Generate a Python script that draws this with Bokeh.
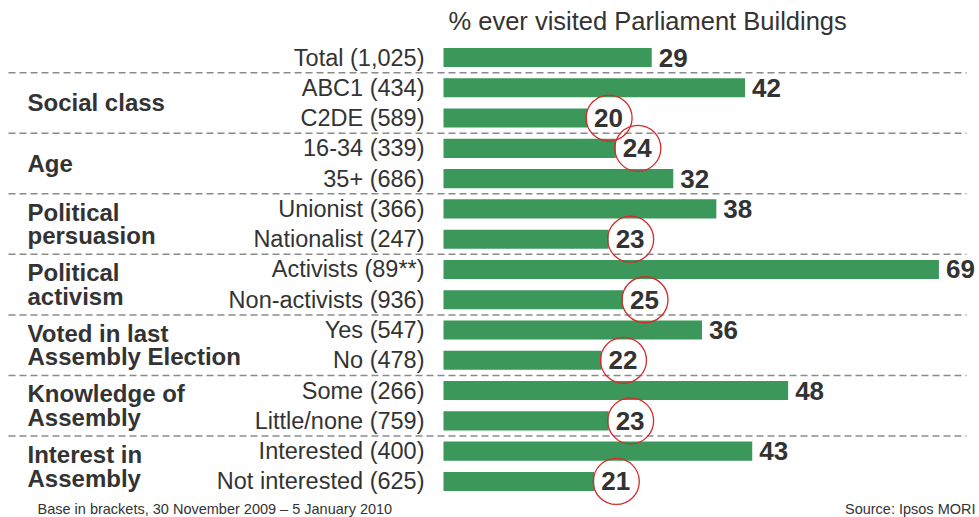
from bokeh.plotting import figure
from bokeh.models import Range1d, ColumnDataSource
from bokeh.core.properties import value
from bokeh.embed import file_html
from bokeh.resources import INLINE

# ---- data ----
categories = ["Total (1,025)", "ABC1 (434)", "C2DE (589)", "16-34 (339)", "35+ (686)",
              "Unionist (366)", "Nationalist (247)", "Activists (89**)", "Non-activists (936)",
              "Yes (547)", "No (478)", "Some (266)", "Little/none (759)",
              "Interested (400)", "Not interested (625)"]
values = [29, 42, 20, 24, 32, 38, 23, 69, 25, 36, 22, 48, 23, 43, 21]
circled = [False, False, True, True, False, False, True, False, True, False, True, False, True, False, True]
groups = ["Social class", "Age", "Political\npersuasion", "Political\nactivism",
          "Voted in last\nAssembly Election", "Knowledge of\nAssembly", "Interest in\nAssembly"]
group_first_row = [1, 3, 5, 7, 9, 11, 13]
title_text = "% ever visited Parliament Buildings"
footer_left = "Base in brackets, 30 November 2009 \u2013 5 January 2010"
footer_right = "Source: Ipsos MORI"

# ---- styling / layout constants ----
W, H = 979, 517
PX_PER_UNIT = 7.18
ZERO_X = 443          # px where value 0 lies
ROW0_Y = 57           # px of first row centre
ROW_PITCH = 30.28
GREEN = "#3b975a"
TEXT = "#333333"
RED = "#d42b2b"
FONT = value("Liberation Sans")


def px_to_x(px):
    return (px - ZERO_X) / PX_PER_UNIT


def py_to_y(py):
    return (py - ROW0_Y) / ROW_PITCH


x0 = px_to_x(0)
x1 = px_to_x(W)
ytop = py_to_y(0)
ybot = py_to_y(H)

p = figure(width=W, height=H, output_backend="svg", toolbar_location=None,
           x_range=Range1d(x0, x1), y_range=Range1d(ybot, ytop),
           min_border=0, outline_line_color=None)
p.axis.visible = False
p.grid.visible = False
p.background_fill_color = "white"
p.border_fill_color = "white"

rows = list(range(len(categories)))
src = ColumnDataSource(dict(
    row=rows, cat=categories, val=values,
    lab=[str(v) for v in values],
))

# separators
sep_y = [0.5] + [r + 1.5 for r in group_first_row[:-1]]
p.segment(x0=[px_to_x(8)] * len(sep_y), x1=[px_to_x(966)] * len(sep_y),
          y0=sep_y, y1=sep_y, line_color="#8a8a8a", line_width=1.5, line_dash="7 4")

# bars
p.hbar(y="row", left=0, right="val", height=0.63, source=src,
       fill_color=GREEN, line_color=None)

# value labels
p.text(x="val", y="row", text="lab", source=src, x_offset=7,
       text_font=FONT, text_font_size="26px", text_font_style="bold",
       text_color=TEXT, text_align="left", text_baseline="middle")

# circles around below-average values
cx = [v + 22 / PX_PER_UNIT for v, c in zip(values, circled) if c]
cy = [r for r, c in zip(rows, circled) if c]
p.scatter(x=cx, y=cy, size=46, marker="circle", fill_alpha=0,
          line_color=RED, line_width=1.3)

# category labels
p.text(x=0, y="row", text="cat", source=src, x_offset=-19,
       text_font=FONT, text_font_size="23.5px", text_color=TEXT,
       text_align="right", text_baseline="middle")

# group labels
p.text(x=[0] * len(groups), y=[r + 0.5 for r in group_first_row], text=groups,
       x_offset=-416, text_font=FONT, text_font_size="24px", text_font_style="bold",
       text_color=TEXT, text_align="left", text_baseline="middle",
       text_line_height=0.87)

# title
p.text(x=[0], y=[py_to_y(20)], text=[title_text], x_offset=5,
       text_font=FONT, text_font_size="25.5px", text_color=TEXT,
       text_align="left", text_baseline="middle")

# footers
fy = py_to_y(508)
p.text(x=[px_to_x(37)], y=[fy], text=[footer_left],
       text_font=FONT, text_font_size="14.5px", text_color=TEXT,
       text_align="left", text_baseline="middle")
p.text(x=[px_to_x(975)], y=[fy], text=[footer_right],
       text_font=FONT, text_font_size="14.5px", text_color=TEXT,
       text_align="right", text_baseline="middle")

open("out.html", "w").write(file_html(p, INLINE))
